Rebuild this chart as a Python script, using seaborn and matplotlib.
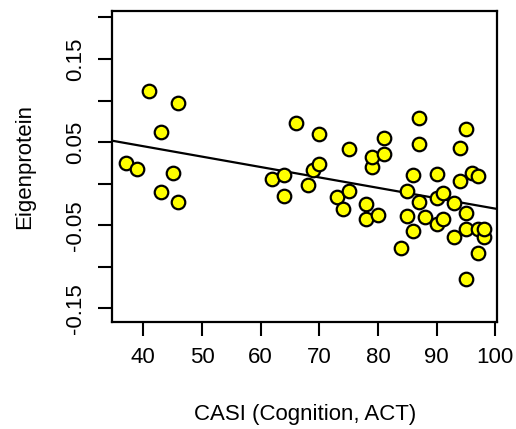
import numpy as np
import pandas as pd
import matplotlib
matplotlib.use("Agg")
import matplotlib.pyplot as plt
import seaborn as sns

# CASI cognition score and eigenprotein value per subject
casi = [37, 39, 41, 46, 43, 45, 43, 46, 62, 64, 64, 66, 68, 69, 70, 70,
        73, 74, 75, 75, 78, 78, 80, 79, 79, 81, 81, 84, 85, 85, 86, 86,
        87, 87, 87, 88, 90, 90, 90, 91, 91, 93, 93, 94, 94, 95, 95, 95,
        95, 96, 97, 97, 97, 98, 98]
eigen = [0.0245, 0.018, 0.1114, 0.0974, 0.0625, 0.0129, -0.010, -0.0216,
         0.0053, 0.0101, -0.0148, 0.0733, -0.0019, 0.0168, 0.0233, 0.0597,
         -0.0164, -0.030, -0.0091, 0.0413, -0.024, -0.0424, -0.0376, 0.0204,
         0.0325, 0.0545, 0.0357, -0.0777, -0.0091, -0.0392, 0.0108, -0.0565,
         -0.022, 0.0477, 0.0793, -0.0397, 0.012, -0.0168, -0.048, -0.0115,
         -0.042, -0.0236, -0.064, 0.0433, 0.0029, 0.0661, -0.0349, -0.0548,
         -0.1149, 0.0132, 0.0093, -0.0548, -0.083, -0.0637, -0.0548]

x_ticks = [40, 50, 60, 70, 80, 90, 100]
y_ticks = [-0.15, -0.10, -0.05, 0.00, 0.05, 0.10, 0.15, 0.20]
y_tick_labels = ["-0.15", "", "-0.05", "", "0.05", "", "0.15", ""]

df = pd.DataFrame({"CASI": casi, "Eigenprotein": eigen})

sns.set_theme(style="white")
plt.rcParams["font.family"] = ["Liberation Sans", "DejaVu Sans"]

fig = plt.figure(figsize=(5.16, 4.29), dpi=100)
ax = fig.add_axes([0.2176, 0.2487, 0.7462, 0.7245])

ax.set_xlim(34.72, 100.34)
ax.set_ylim(-0.1666, 0.207)

sns.regplot(data=df, x="CASI", y="Eigenprotein", ax=ax, ci=None,
            truncate=False,
            scatter_kws=dict(s=95, color="#FFFF00", edgecolors="black",
                             linewidths=1.6, alpha=1, zorder=3),
            line_kws=dict(color="black", lw=1.6, zorder=2))

ax.set_xlim(34.72, 100.34)
ax.set_ylim(-0.1666, 0.207)

ax.set_xticks(x_ticks)
ax.set_xticklabels([str(t) for t in x_ticks])
ax.set_yticks(y_ticks)
ax.set_yticklabels(y_tick_labels, rotation=90, va="center")

ax.tick_params(axis="both", which="major", direction="out", length=10,
               width=1.5, color="black", labelsize=16, labelcolor="black",
               bottom=True, left=True)
ax.tick_params(axis="x", pad=8)
ax.tick_params(axis="y", pad=9)

for sp in ax.spines.values():
    sp.set_visible(True)
    sp.set_color("black")
    sp.set_linewidth(1.6)

ax.set_xlabel("CASI (Cognition, ACT)", fontsize=16, color="black")
ax.set_ylabel("Eigenprotein", fontsize=16, color="black")
ax.xaxis.set_label_coords(0.5, -0.262)
ax.yaxis.set_label_coords(-0.2008, 0.5)

fig.savefig("out.png", dpi=100)
